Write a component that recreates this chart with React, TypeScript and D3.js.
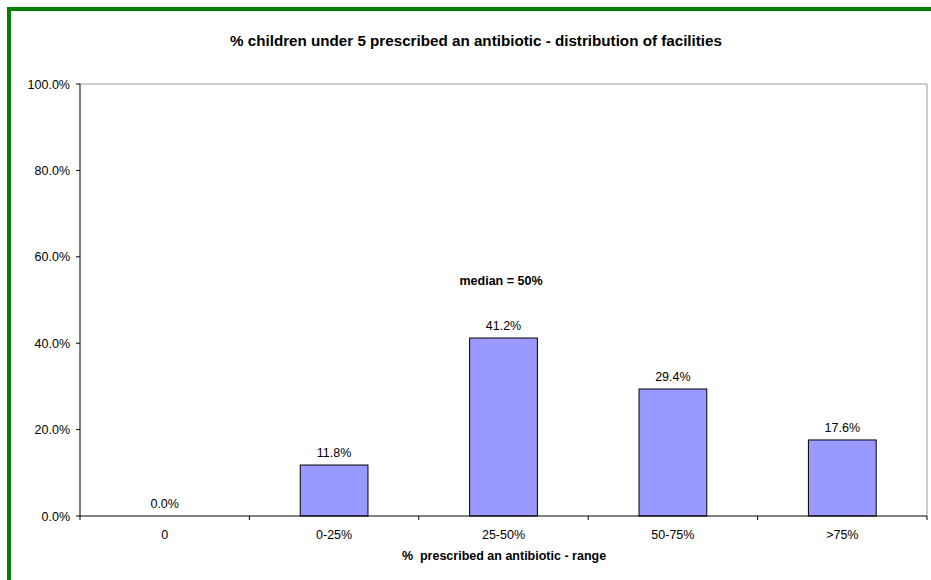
import React from "react";
import * as d3 from "d3";

const categories = ["0", "0-25%", "25-50%", "50-75%", ">75%"];
const values = [0.0, 11.8, 41.2, 29.4, 17.6];
const yTicks = [0, 20, 40, 60, 80, 100];
const titleText = "% children under 5 prescribed an antibiotic - distribution of facilities";
const xTitle = "%  prescribed an antibiotic - range";
const annotation = "median = 50%";

const W = 931;
const H = 580;
const left = 80;
const right = 927;
const top = 84;
const bottom = 516;
const font = "'Liberation Sans', Arial, sans-serif";
const fs = 12.5;

export default function App() {
  const x = d3.scaleBand<string>().domain(categories).range([left, right]).paddingInner(0.6).paddingOuter(0.3);
  const band = d3.scaleBand<string>().domain(categories).range([left, right]);
  const y = d3.scaleLinear().domain([0, 100]).range([bottom, top]);
  const boundaries = d3.range(categories.length + 1).map((i) => left + i * band.step());

  return (
    <svg width={W} height={H} style={{ position: "absolute", left: 0, top: 0, background: "#fff" }}>
      <rect x={0} y={0} width={W} height={H} fill="#fff" />
      <line x1={9} y1={9} x2={W} y2={9} stroke="#008000" strokeWidth={4} />
      <line x1={9} y1={7} x2={9} y2={H} stroke="#008000" strokeWidth={4} />
      <text x={476} y={46} textAnchor="middle" fontFamily={font} fontWeight="bold" fontSize={15.2}>
        {titleText}
      </text>
      {/* plot border */}
      <line x1={left} y1={top} x2={right} y2={top} stroke="#999" strokeWidth={1} />
      <line x1={right} y1={top} x2={right} y2={bottom} stroke="#999" strokeWidth={1} />
      {/* bars */}
      {categories.map((c, i) => (
        <rect
          key={c}
          x={x(c)!}
          y={y(values[i])}
          width={x.bandwidth()}
          height={bottom - y(values[i])}
          fill="#9999FF"
          stroke="#000"
          strokeWidth={1}
        />
      ))}
      {categories.map((c, i) => (
        <text
          key={"l" + c}
          x={band(c)! + band.bandwidth() / 2}
          y={y(values[i]) - 8}
          textAnchor="middle"
          fontFamily={font}
          fontSize={fs}
          fill="#000"
        >
          {values[i].toFixed(1) + "%"}
        </text>
      ))}
      {/* y axis */}
      <line x1={left} y1={top} x2={left} y2={bottom} stroke="#000" strokeWidth={1} />
      {yTicks.map((t) => (
        <g key={t}>
          <line x1={left - 4} y1={y(t)} x2={left} y2={y(t)} stroke="#000" />
          <text x={70} y={y(t) + 4.5} textAnchor="end" fontFamily={font} fontSize={fs} fill="#000">
            {t.toFixed(1) + "%"}
          </text>
        </g>
      ))}
      {/* x axis */}
      <line x1={left} y1={bottom} x2={right} y2={bottom} stroke="#000" strokeWidth={1} />
      {boundaries.map((b, i) => (
        <line key={i} x1={b} y1={bottom} x2={b} y2={bottom + 4} stroke="#000" />
      ))}
      {categories.map((c) => (
        <text
          key={"x" + c}
          x={band(c)! + band.bandwidth() / 2}
          y={539}
          textAnchor="middle"
          fontFamily={font}
          fontSize={fs}
          fill="#000"
        >
          {c}
        </text>
      ))}
      <text
        x={504}
        y={560}
        textAnchor="middle"
        fontFamily={font}
        fontWeight="bold"
        fontSize={fs}
        style={{ whiteSpace: "pre" }}
      >
        {xTitle}
      </text>
      <text x={501} y={285} textAnchor="middle" fontFamily={font} fontWeight="bold" fontSize={fs}>
        {annotation}
      </text>
    </svg>
  );
}
